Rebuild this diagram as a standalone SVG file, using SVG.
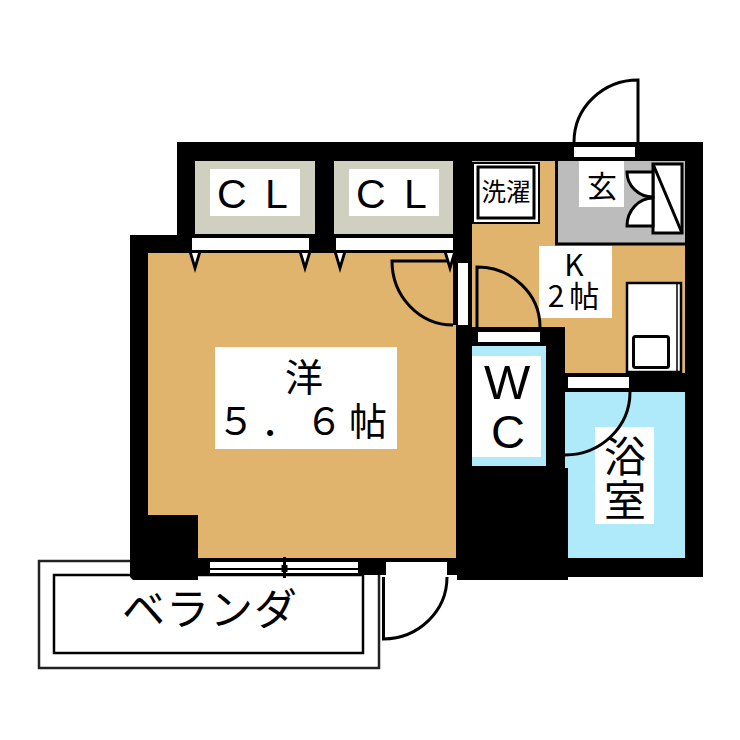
<svg xmlns="http://www.w3.org/2000/svg" width="740" height="740" viewBox="0 0 740 740">
<style>
.ln{fill:none;stroke:#000;stroke-width:3}
.lnw{fill:#fff;stroke:#000;stroke-width:3}
.w{fill:#fff}
.t{fill:#000;font-family:"Noto Sans CJK JP","Liberation Sans",sans-serif;text-anchor:middle}
.l{fill:#000;font-family:"Liberation Sans",sans-serif}
</style>
<rect width="740" height="740" fill="#fff"/>
<g id="balcony">
<rect x="39" y="561" width="340" height="107" fill="#fff" stroke="#222" stroke-width="2.5"/>
<rect x="54" y="575" width="309" height="78" fill="#fff" stroke="#000" stroke-width="2.5"/>
<text class="t" x="210" y="625" font-size="43" letter-spacing="1">ベランダ</text>
</g>
<g id="walls">
<polygon points="177,142 703,142 703,577 568,577 568,580 457,580 457,575 198,575 198,580 133,580 130,577 130,235 177,235" fill="#000"/>
</g>
<g id="room-western">
<polygon points="148,253 453,253 453,325 456,325 456,558 198,558 198,515 148,515" fill="#e0b46c"/>
<rect class="w" x="215" y="347" width="182" height="102"/>
<text class="t" font-size="38"><tspan x="304" y="391">洋</tspan><tspan x="305" y="435" letter-spacing="6">５．６帖</tspan></text>
</g>
<g id="closet-1">
<rect x="195" y="161" width="120" height="73" fill="#d0d0c0"/>
<rect class="w" x="210" y="169" width="90" height="47"/>
<text class="l" x="217 265" y="207.500" font-size="41">CL</text>
<rect class="w" x="192" y="238" width="117" height="12"/>
</g>
<g id="closet-2">
<rect x="334" y="161" width="119" height="73" fill="#d0d0c0"/>
<rect class="w" x="349" y="169" width="90" height="47"/>
<text class="l" x="356 404" y="207.500" font-size="41">CL</text>
<rect class="w" x="336" y="238" width="117" height="12"/>
</g>
<g id="kitchen">
<polygon points="472,161 685,161 685,373 565,373 565,327 472,327" fill="#e0b46c"/>
<rect class="w" x="539" y="246" width="73" height="72"/>
<text class="t" font-size="30"><tspan x="574" y="276">K</tspan><tspan x="576" y="307" letter-spacing="5">2帖</tspan></text>
<rect x="627" y="283" width="54" height="89" fill="#fff" stroke="#000" stroke-width="2.5"/>
<line x1="677" y1="283" x2="677" y2="372" stroke="#000" stroke-width="1.5"/>
<rect x="633.500" y="336.500" width="35" height="31" rx="2" fill="#fff" stroke="#000" stroke-width="3"/>
</g>
<g id="laundry">
<rect x="473" y="163" width="66" height="60" fill="#fff" stroke="#000" stroke-width="2"/>
<rect x="478" y="167" width="56" height="51" fill="#fff" stroke="#000" stroke-width="3"/>
<text class="t" x="506" y="201" font-size="24.500">洗濯</text>
</g>
<g id="entrance">
<rect x="556" y="161" width="129" height="83" fill="#bcbcbc"/>
<path class="ln" d="M556.500 161V244H685"/>
<rect class="w" x="579" y="161" width="45" height="46"/>
<text class="t" x="602" y="197" font-size="30">玄</text>
<rect x="653" y="164" width="29" height="69" fill="#fff" stroke="#000" stroke-width="3"/>
<path class="ln" d="M653 164L682 233"/>
<path class="lnw" d="M653 172H627A26 25 0 0 0 653 197Z"/>
<path class="lnw" d="M653 226H627A26 28 0 0 1 653 198Z"/>
</g>
<g id="wc">
<rect x="472" y="346" width="74" height="120" fill="#aeeafa"/>
<rect class="w" x="472" y="356" width="69" height="101"/>
<text class="l" x="507" y="399" font-size="49" text-anchor="middle">W</text>
<text class="l" x="508" y="448" font-size="47" text-anchor="middle">C</text>
<rect class="w" x="478" y="332" width="62" height="10"/>
</g>
<g id="bath">
<polygon points="565,392 685,392 685,558 568,558 568,468 565,468" fill="#aeeafa"/>
<rect class="w" x="595" y="427" width="59" height="97"/>
<text class="t" font-size="42"><tspan x="625" y="472">浴</tspan><tspan x="625" y="516">室</tspan></text>
<rect class="w" x="568" y="377" width="61" height="11"/>
</g>
<g id="openings">
<rect class="w" x="574" y="147" width="61" height="10"/>
<rect class="w" x="458" y="263" width="10" height="62"/>
<rect class="w" x="210" y="562" width="148" height="11"/>
<rect class="w" x="386" y="562" width="61" height="13"/>
<rect x="210" y="568" width="148" height="2" fill="#000"/>
<rect x="283" y="557" width="3" height="21" fill="#000"/>
<rect x="281.500" y="565" width="6" height="7" fill="#000"/>
</g>
<g id="connectors">
<path class="ln" d="M574 142A64 62 0 0 1 638 80V142"/>
<path class="ln" d="M453 261H392A61 64 0 0 0 453 325"/>
<path class="ln" d="M477 327V267A63 60 0 0 1 540 327"/>
<path class="ln" d="M630 392A65 63 0 0 1 565 455"/>
<path class="ln" d="M447 577A64 62 0 0 1 383.500 639V577"/>
<path d="M189 253H201L195 273Z M299 253H311L305 273Z M334 253H346L340 273Z M444 253H456L450 273Z" fill="#000"/>
<path d="M192 253H198L195 263Z M302 253H308L305 263Z M337 253H343L340 263Z M447 253H453L450 263Z" fill="#fff"/>
</g>
</svg>
